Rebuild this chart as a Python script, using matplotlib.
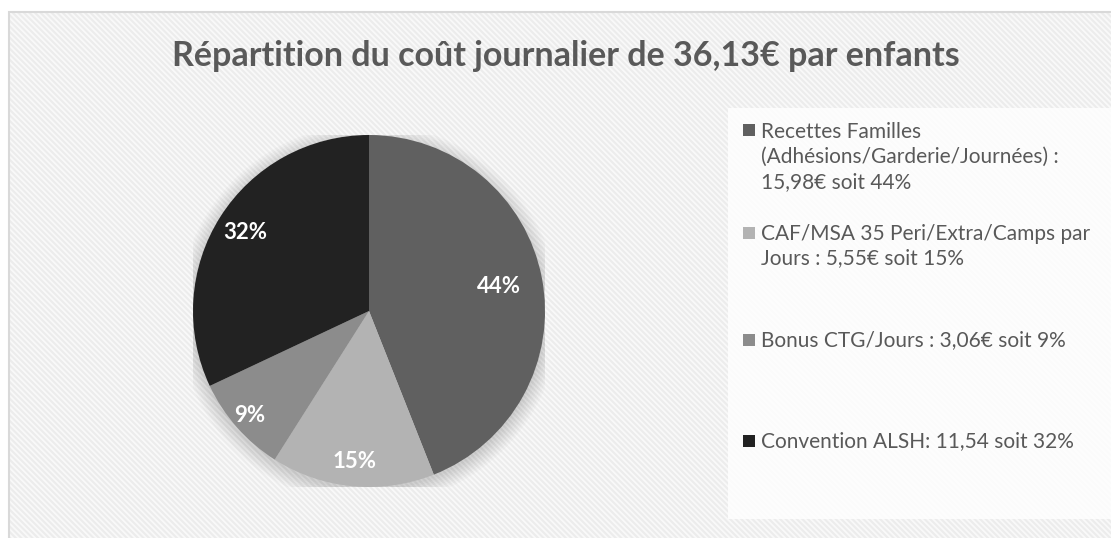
import matplotlib
matplotlib.use("Agg")
import matplotlib.pyplot as plt
from matplotlib.patches import Rectangle, Circle
import numpy as np

# ---- data ----
title = "Répartition du coût journalier de 36,13€ par enfants"
categories = [
    "Recettes Familles\n(Adhésions/Garderie/Journées) :\n15,98€ soit 44%",
    "CAF/MSA 35 Peri/Extra/Camps par\nJours : 5,55€ soit 15%",
    "Bonus CTG/Jours : 3,06€ soit 9%",
    "Convention ALSH: 11,54 soit 32%",
]
percents = [44, 15, 9, 32]
colors = ["#606060", "#b3b3b3", "#8c8c8c", "#222222"]

# ---- style / layout ----
label_dist = [0.75, 0.86, 0.90, 0.83]
legend_y_px = [157, 246, 340, 441]
FONT = "Lato"
W, H = 1111, 538
plt.rcParams["hatch.linewidth"] = 1.5

fig = plt.figure(figsize=(W / 100, H / 100), dpi=100)
fig.patch.set_facecolor("white")

# chart area background with diagonal stripes
bg = Rectangle((9 / W, 0), 1, 1 - 12 / H, transform=fig.transFigure,
               facecolor="#f9f9f9", edgecolor="#ececec", hatch="\\\\\\\\\\\\",
               linewidth=0, zorder=-3)
fig.patches.append(bg)
border = Rectangle((9 / W, -0.01), 1, 1 - 12 / H + 0.01, transform=fig.transFigure,
                   facecolor="none", edgecolor="#d9d9d9", linewidth=1.5, zorder=-1)
fig.patches.append(border)

# legend panel
panel = Rectangle((728 / W, 1 - 519 / H), 1, (519 - 108) / H, transform=fig.transFigure,
                  facecolor="white", edgecolor="none", alpha=0.82, zorder=-2)
fig.patches.append(panel)

# title
fig.text(566 / W, 1 - 56 / H, title, ha="center", va="center",
         fontsize=24.5, fontweight="bold", color="#595959", family=FONT)

# pie
cx, cy, r = 369, 311, 176
ax = fig.add_axes([(cx - r) / W, (H - cy - r) / H, 2 * r / W, 2 * r / H])
ax.set_zorder(2)
ax.patch.set_visible(False)

# soft shadow
for k in range(8):
    ax.add_patch(Circle((0.0, -0.02), 1.0 + 0.012 * k, facecolor="black",
                        edgecolor="none", alpha=0.018, zorder=0))

wedges, _ = ax.pie(percents, colors=colors, startangle=90, counterclock=False,
                   radius=1, wedgeprops=dict(linewidth=0, zorder=2))
ax.set_xlim(-1, 1)
ax.set_ylim(-1, 1)
ax.set_aspect("equal")
ax.axis("off")

for w, p, d in zip(wedges, percents, label_dist):
    ang = np.deg2rad((w.theta1 + w.theta2) / 2)
    ax.text(d * np.cos(ang), d * np.sin(ang), f"{p}%",
            ha="center", va="center", color="white", fontsize=16,
            fontweight="bold", family=FONT, zorder=3)

# legend entries
for lab, col, yc in zip(categories, colors, legend_y_px):
    nlines = lab.count("\n") + 1
    line_h = 27
    top = yc - (nlines - 1) * line_h / 2
    fig.patches.append(Rectangle((743 / W, 1 - (top + 6) / H), 12 / W, 12 / H,
                                 transform=fig.transFigure, facecolor=col,
                                 edgecolor="none", zorder=3))
    fig.text(761 / W, 1 - yc / H, lab, ha="left", va="center", fontsize=15,
             color="#595959", family=FONT, linespacing=1.3, zorder=3)

fig.savefig("out.png", dpi=100, facecolor=fig.get_facecolor())
